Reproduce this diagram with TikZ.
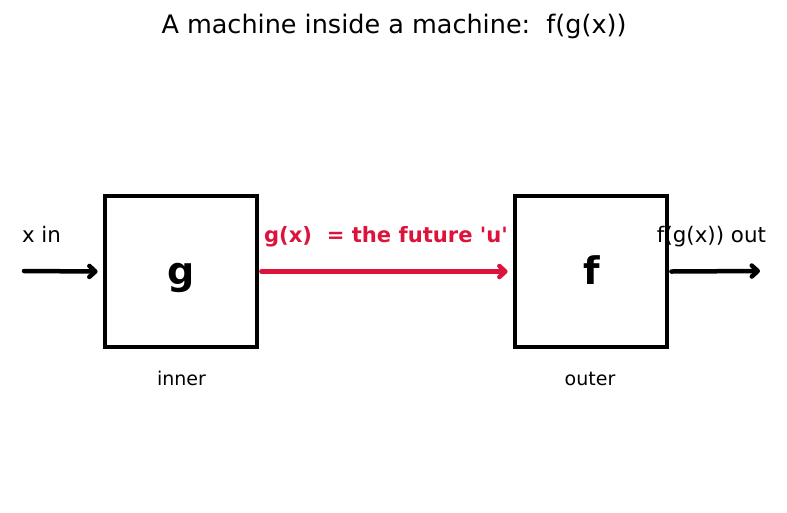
\documentclass[tikz,border=0pt]{standalone}
\usepackage{fontspec}
\setmainfont{DejaVu Sans}
\usetikzlibrary{arrows.meta}
\definecolor{crim}{RGB}{220,20,60}
\tikzset{
  lbl/.style={anchor=base, inner sep=0pt, font=\fontsize{21.4}{25}\selectfont},
  sublbl/.style={anchor=base, inner sep=0pt, font=\fontsize{19}{23}\selectfont},
  machine/.style={draw=black, line width=4.8pt, minimum width=152pt, minimum height=151pt, inner sep=0pt},
  letter/.style={anchor=base, inner sep=0pt, font=\fontsize{38}{44}\selectfont\bfseries},
  flow/.style={line width=4.5pt, line cap=round, -{Straight Barb[length=6pt,width=11pt,line cap=round,line join=round]}}
}
\begin{document}
\begin{tikzpicture}[x=1pt,y=-1pt]
\useasboundingbox (0,0) rectangle (787,512);
\node[anchor=base, inner sep=0pt, font=\fontsize{25.5}{30}\selectfont] (title) at (394,33.5) {A machine inside a machine:\ \ f(g(x))};
\node[lbl] (xin) at (41.5,242.5) {x in};
\node[lbl] (fout) at (711.5,242.5) {f(g(x)) out};
\node[lbl, font=\fontsize{21.1}{25}\selectfont\bfseries, text=crim] (glabel) at (386,242.5) {g(x)\ \ = the future \textquotesingle u\textquotesingle};
\node[sublbl] (inner) at (181.5,385) {inner};
\node[sublbl] (outer) at (590,385) {outer};
\node[machine] (g) at (181,271.5) {};
\node[machine] (f) at (591,271.5) {};
\node[letter] (gl) at (181,284) {g};
\node[letter] (fl) at (592,284) {f};
\coordinate (xstart) at (24,271);
\coordinate (fend) at (760,271);
\draw[flow] (xstart) -- ([xshift=-5pt]g.west);
\draw[flow, draw=crim] ([xshift=2pt]g.east) -- ([xshift=-5pt]f.west);
\draw[flow] ([xshift=2pt]f.east) -- (fend);
\end{tikzpicture}
\end{document}
